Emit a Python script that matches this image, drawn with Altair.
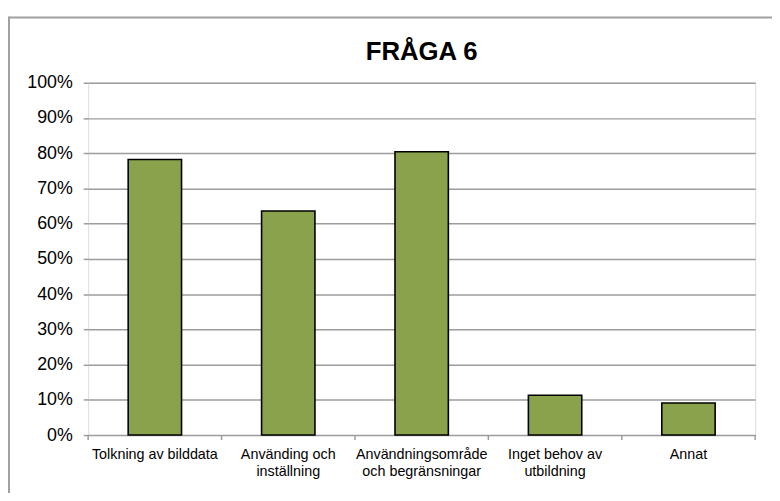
import altair as alt
import pandas as pd

categories = [
    "Tolkning av bilddata",
    "Använding och\ninställning",
    "Användningsområde\noch begränsningar",
    "Inget behov av\nutbildning",
    "Annat",
]
values = [0.782, 0.636, 0.804, 0.113, 0.091]
title_text = "FRÅGA 6"

df = pd.DataFrame({"cat": categories, "val": values})
FONT = "Liberation Sans"
GRAY = "#9c9c9c"

xscale = alt.Scale(domain=categories, paddingInner=0, paddingOuter=0)
yscale = alt.Scale(domain=[0, 1])

one = pd.DataFrame({"k": [0]})
frame_top = alt.Chart(one).mark_rule(color="#a0a0a0", strokeWidth=2, clip=False).encode(
    x=alt.value(-80), x2=alt.value(700), y=alt.value(-66)
)
frame_left = alt.Chart(one).mark_rule(color="#a0a0a0", strokeWidth=2, clip=False).encode(
    x=alt.value(-80), y=alt.value(-67), y2=alt.value(450)
)

bars = alt.Chart(df).mark_bar(
    width=alt.RelativeBandSize(0.4), color="#8ba24d", stroke="black", strokeWidth=1.6
).encode(
    x=alt.X("cat:N", scale=xscale, sort=categories,
            axis=alt.Axis(title=None, labelAngle=0, ticks=False, domain=False, grid=False,
                          labelExpr="split(datum.label, '\\n')", labelFontSize=14.5,
                          labelLineHeight=17, labelPadding=13, labelFont=FONT,
                          labelColor="black", labelBaseline="top")),
    y=alt.Y("val:Q", scale=yscale,
            axis=alt.Axis(title=None, format=".0%", values=[i / 10 for i in range(11)],
                          labelFontSize=18, labelFont=FONT, labelColor="black",
                          labelPadding=11, tickSize=5, tickColor=GRAY, tickWidth=1.5,
                          domain=False, grid=True, gridColor=GRAY, gridWidth=1.5)),
)

tickdf = pd.DataFrame({"cat": categories})
ticks_left = alt.Chart(tickdf).mark_rule(color=GRAY, strokeWidth=1.5).encode(
    x=alt.X("cat:N", scale=xscale, sort=categories, bandPosition=0),
    y=alt.value(356), y2=alt.value(361),
)
ticks_right = alt.Chart(tickdf.tail(1)).mark_rule(color=GRAY, strokeWidth=1.5).encode(
    x=alt.X("cat:N", scale=xscale, sort=categories, bandPosition=1),
    y=alt.value(356), y2=alt.value(361),
)

chart = alt.layer(frame_top, frame_left, bars, ticks_left, ticks_right).properties(
    width=674, height=356,
    title=alt.TitleParams(title_text, fontSize=26, font=FONT, fontWeight="bold",
                          anchor="middle", offset=0, dy=71, baseline="alphabetic",
                          color="black", frame="group"),
    autosize=alt.AutoSizeParams(type="none"),
    padding={"left": 81, "top": 73, "right": 17, "bottom": 56},
).configure_view(stroke=GRAY, strokeWidth=2).configure(background="white")

chart.save("out.html", embed_options={"renderer": "svg", "actions": False})
